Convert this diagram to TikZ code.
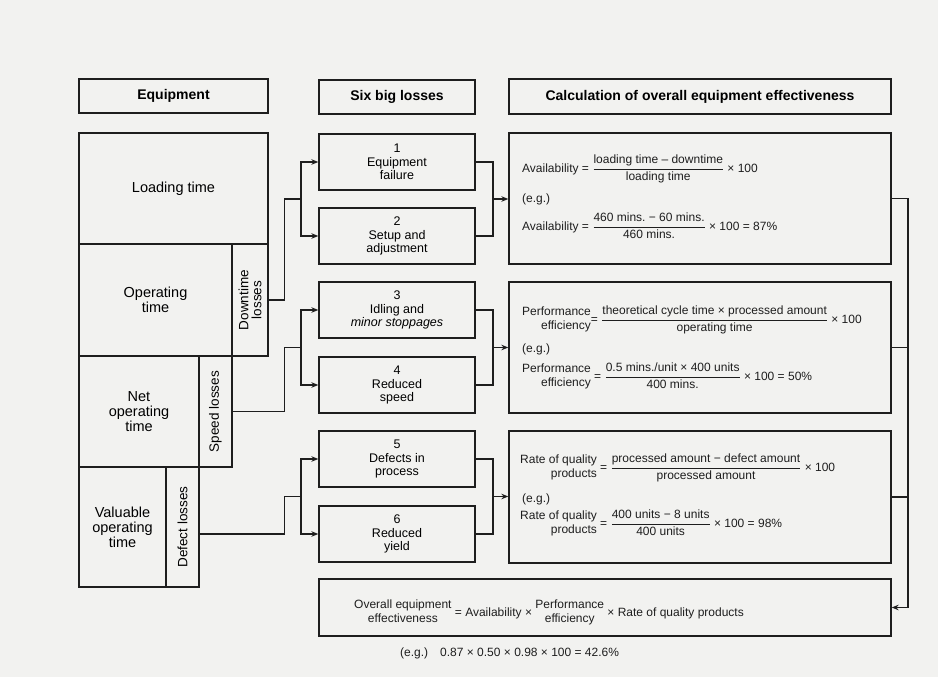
\documentclass[tikz,border=0pt]{standalone}
\usepackage{fontspec}
\setmainfont{Liberation Sans}
\usetikzlibrary{arrows.meta,calc}
\frenchspacing
\definecolor{paper}{RGB}{242,242,240}
\definecolor{ink}{RGB}{30,30,30}
\newcommand\fr[2]{$\displaystyle\frac{\hbox{#1}}{\hbox{#2}}$}
\newcommand\tw[2]{\begin{tabular}{@{}r@{}}#1\\#2\end{tabular}}
\newcommand\twc[2]{\begin{tabular}{@{}c@{}}#1\\#2\end{tabular}}
\tikzset{
  hdr/.style={draw=ink, line width=1.8pt, inner sep=0pt, font=\fontsize{14}{16}\selectfont\bfseries},
  eqbox/.style={draw=ink, line width=1.3pt, inner sep=0pt, align=center, font=\fontsize{14.5}{15}\selectfont},
  rotbox/.style={draw=ink, line width=1.3pt, inner sep=0pt, align=center, rotate=90, font=\fontsize{13.5}{13}\selectfont},
  loss/.style={draw=ink, line width=1.3pt, inner sep=0pt, align=center, minimum width=156pt, minimum height=56pt, font=\fontsize{12.5}{13.5}\selectfont},
  calcbox/.style={draw=ink, line width=1.3pt, inner sep=0pt, minimum width=382pt, minimum height=131pt},
  ftext/.style={anchor=base west, inner sep=0pt, text=ink, font=\fontsize{12}{14}\selectfont},
  conn/.style={draw=ink, line width=1.3pt},
  arr/.style={conn, -{Stealth[length=7pt,width=5.5pt]}},
}
\begin{document}
\begin{tikzpicture}[x=1pt,y=-1pt]
\fill[paper] (0,0) rectangle (938,677);
\useasboundingbox (0,0) rectangle (938,677);

% headers
\node[hdr, minimum width=189pt, minimum height=34pt] (eqh) at (173.5,96) {Equipment};
\node[hdr, minimum width=156pt, minimum height=34pt] (sixh) at (397,97) {Six big losses};
\node[hdr, minimum width=382pt, minimum height=35pt] (calch) at (700,96.5) {Calculation of overall equipment effectiveness};

% equipment column
\node[eqbox, minimum width=189pt, minimum height=111pt] (load) at (173.5,188.5) {Loading time};
\node[eqbox, minimum width=153pt, minimum height=112pt] (oper) at (155.5,300) {Operating\\time};
\node[rotbox, minimum width=112pt, minimum height=36pt] (down) at (250,300) {Downtime\\losses};
\node[eqbox, minimum width=120pt, minimum height=111pt] (net) at (139,411.5) {Net\\operating\\time};
\node[rotbox, minimum width=111pt, minimum height=33pt] (speed) at (215.5,411.5) {Speed losses};
\node[eqbox, minimum width=87pt, minimum height=120pt] (val) at (122.5,527) {Valuable\\operating\\time};
\node[rotbox, minimum width=120pt, minimum height=33pt] (defect) at (182.5,527) {Defect losses};

% six big losses
\node[loss] (b1) at (397,162) {1\\Equipment\\failure};
\node[loss] (b2) at (397,236) {2\\Setup and\\adjustment};
\node[loss] (b3) at (397,310) {3\\Idling and\\\textit{minor stoppages}};
\node[loss] (b4) at (397,385) {4\\Reduced\\speed};
\node[loss] (b5) at (397,459) {5\\Defects in\\process};
\node[loss] (b6) at (397,534) {6\\Reduced\\yield};

% calculation boxes
\node[calcbox] (avail) at (700,198.5) {};
\node[calcbox] (perf) at (700,347.5) {};
\node[calcbox, minimum height=132pt] (qual) at (700,497) {};
\node[draw=ink, line width=1.3pt, inner sep=0pt, minimum width=572pt, minimum height=57pt] (oee) at (605,607.5) {};

% formulas
\node[ftext] (a1) at (522,172) {Availability = \fr{loading time -- downtime}{loading time} × 100};
\node[ftext] (ae) at (522,202) {(e.g.)};
\node[ftext] (a2) at (522,230) {Availability = \fr{460 mins. − 60 mins.}{460 mins.} × 100 = 87\%};

\node[ftext] (p1) at (522,323) {\tw{Performance}{efficiency}= \fr{theoretical cycle time × processed amount}{operating time} × 100};
\node[ftext] (pe) at (522,352) {(e.g.)};
\node[ftext] (p2) at (522,380) {\tw{Performance}{efficiency} = \fr{0.5 mins./unit × 400 units}{400 mins.} × 100 = 50\%};

\node[ftext] (q1) at (520,471) {\tw{Rate of quality}{products} = \fr{processed amount − defect amount}{processed amount} × 100};
\node[ftext] (qe) at (522,502) {(e.g.)};
\node[ftext] (q2) at (520,527) {\tw{Rate of quality}{products} = \fr{400 units − 8 units}{400 units} × 100 = 98\%};

\node[ftext] (oeet) at (354,616) {\twc{Overall equipment}{effectiveness} = Availability × \twc{Performance}{efficiency} × Rate of quality products};
\node[ftext] (oeeeg) at (400,656) {(e.g.)\quad 0.87 × 0.50 × 0.98 × 100 = 42.6\%};

% connectors: equipment -> losses
\coordinate (f1) at (301,199);
\coordinate (f2) at (301,347.5);
\coordinate (f3) at (301,496.5);
\draw[conn] (down.south) -- ++(16,0) |- (f1);
\draw[arr] (f1) |- (b1.west);
\draw[arr] (f1) |- (b2.west);
\draw[conn] (speed.south) -- ++(52,0) |- (f2);
\draw[arr] (f2) |- (b3.west);
\draw[arr] (f2) |- (b4.west);
\draw[conn] (defect.south |- b6.west) -- ++(85,0) |- (f3);
\draw[arr] (f3) |- (b5.west);
\draw[arr] (f3) |- (b6.west);

% connectors: losses -> calculation
\coordinate (j1) at (493,199);
\coordinate (j2) at (493,347.5);
\coordinate (j3) at (493,496.5);
\draw[conn] (b1.east) -| (j1) |- (b2.east);
\draw[arr] (j1) -- (j1 -| avail.west);
\draw[conn] (b3.east) -| (j2) |- (b4.east);
\draw[arr] (j2) -- (j2 -| perf.west);
\draw[conn] (b5.east) -| (j3) |- (b6.east);
\draw[arr] (j3) -- (j3 -| qual.west);

% connectors: calculation -> overall
\coordinate (r) at (908,198.5);
\draw[arr] (avail.east) -- (r) |- (oee.east);
\draw[conn] (perf.east) -- (perf.east -| r);
\draw[conn] (qual.east) -- (qual.east -| r);
\end{tikzpicture}
\end{document}
